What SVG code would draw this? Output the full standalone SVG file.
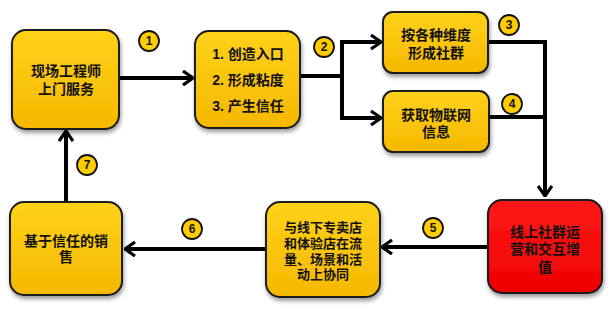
<svg xmlns="http://www.w3.org/2000/svg" width="613" height="317" viewBox="0 0 613 317">
<defs>
<linearGradient id="gy" x1="0" y1="0" x2="0" y2="1">
<stop offset="0" stop-color="#FFD21A"/>
<stop offset="1" stop-color="#F5B800"/>
</linearGradient>
<linearGradient id="gr" x1="0" y1="0" x2="0" y2="1">
<stop offset="0" stop-color="#FF1A1A"/>
<stop offset="1" stop-color="#EE0000"/>
</linearGradient>
<filter id="sh" x="-20%" y="-20%" width="140%" height="150%">
<feGaussianBlur in="SourceAlpha" stdDeviation="2"/>
<feOffset dx="1" dy="3" result="o"/>
<feComponentTransfer><feFuncA type="linear" slope="0.4"/></feComponentTransfer>
<feMerge><feMergeNode/><feMergeNode in="SourceGraphic"/></feMerge>
</filter>
<marker id="ah" viewBox="0 0 12 16" refX="11" refY="8" markerWidth="12" markerHeight="16" markerUnits="userSpaceOnUse" orient="auto">
<path d="M1,1 L11,8 L1,15" fill="none" stroke="#000" stroke-width="3.2" stroke-linejoin="miter"/>
</marker>
</defs>
<style>
.box{stroke:#1a1a1a;stroke-width:2;filter:url(#sh)}
.y{fill:url(#gy)}
.r{fill:url(#gr)}
.t{font-family:"Liberation Sans","Noto Sans CJK SC",sans-serif;font-weight:bold;font-size:14px;fill:#111;text-anchor:middle;dominant-baseline:central}
.s{font-size:13px}
.ln{fill:none;stroke:#000;stroke-width:4}
.c circle{fill:#FFCC00;stroke:#111;stroke-width:1.8}
.c text{font-family:"Liberation Sans",Arial,sans-serif;font-weight:bold;font-size:12px;fill:#111;text-anchor:middle;dominant-baseline:central}
</style>
<g id="connectors">
<path class="ln" d="M120,78 H193" marker-end="url(#ah)"/>
<path class="ln" d="M301,76 H342 M342,42 V119"/>
<path class="ln" d="M340,42 H381" marker-end="url(#ah)"/>
<path class="ln" d="M340,118 H381" marker-end="url(#ah)"/>
<path class="ln" d="M489,42 H545 V196" marker-end="url(#ah)"/>
<path class="ln" d="M490,117 H545"/>
<path class="ln" d="M488,247 H382" marker-end="url(#ah)"/>
<path class="ln" d="M266,249 H125" marker-end="url(#ah)"/>
<path class="ln" d="M66,202 V131" marker-end="url(#ah)"/>
</g>
<g id="n1"><rect class="box y" x="12" y="30" width="107" height="99" rx="14"/><text class="t" x="66" y="71">现场工程师</text><text class="t" x="66" y="89">上门服务</text></g>
<g id="n2"><rect class="box y" x="195" y="31" width="105" height="97" rx="14"/><text class="t" x="248" y="54">1. 创造入口</text><text class="t" x="248" y="80">2. 形成粘度</text><text class="t" x="248" y="106">3. 产生信任</text></g>
<g id="n3"><rect class="box y" x="383" y="12" width="105" height="61" rx="10"/><text class="t" x="436" y="35">按各种维度</text><text class="t" x="436" y="53">形成社群</text></g>
<g id="n4"><rect class="box y" x="383" y="91" width="106" height="61" rx="10"/><text class="t" x="436" y="115">获取物联网</text><text class="t" x="436" y="132">信息</text></g>
<g id="n5"><rect class="box r" x="488" y="200" width="114" height="93" rx="14"/><text class="t" x="545" y="232">线上社群运</text><text class="t" x="545" y="249">营和交互增</text><text class="t" x="545" y="267">值</text></g>
<g id="n6"><rect class="box y" x="266" y="202" width="114" height="95" rx="14"/><text class="t s" x="323" y="227">与线下专卖店</text><text class="t s" x="323" y="243">和体验店在流</text><text class="t s" x="323" y="259">量、场景和活</text><text class="t s" x="323" y="274">动上协同</text></g>
<g id="n7"><rect class="box y" x="10" y="202" width="112" height="93" rx="14"/><text class="t" x="66" y="241">基于信任的销</text><text class="t" x="66" y="257">售</text></g>
<g id="badges">
<g class="c"><circle cx="149" cy="41" r="10"/><text x="149" y="41">1</text></g>
<g class="c"><circle cx="324" cy="47" r="10"/><text x="324" y="47">2</text></g>
<g class="c"><circle cx="509" cy="25" r="10"/><text x="509" y="25">3</text></g>
<g class="c"><circle cx="512" cy="104" r="10"/><text x="512" y="104">4</text></g>
<g class="c"><circle cx="433" cy="228" r="10"/><text x="433" y="228">5</text></g>
<g class="c"><circle cx="192" cy="229" r="10"/><text x="192" y="229">6</text></g>
<g class="c"><circle cx="87" cy="165" r="10"/><text x="87" y="165">7</text></g>
</g>
</svg>
